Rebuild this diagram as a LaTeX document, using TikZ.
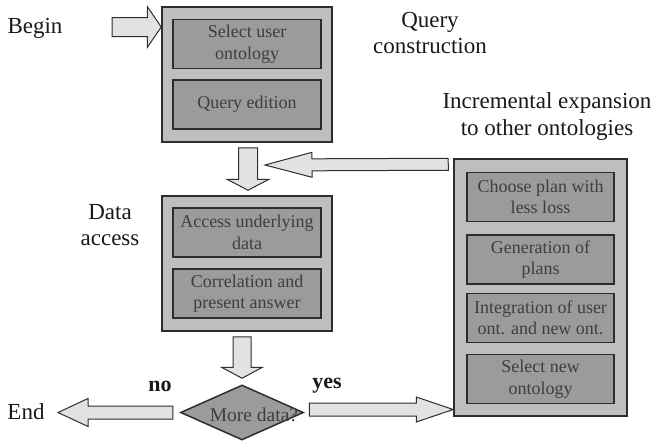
\documentclass[tikz,border=0pt]{standalone}
\usepackage{fontspec}
\setmainfont{Liberation Serif}
\usetikzlibrary{calc,shapes.geometric}

\definecolor{panelgray}{RGB}{190,190,190}
\definecolor{stepgray}{RGB}{155,155,155}
\definecolor{arrowgray}{RGB}{226,226,226}
\definecolor{edgegray}{RGB}{45,45,45}
\definecolor{textgray}{RGB}{62,62,62}

\tikzset{
  panel/.style={draw=edgegray, line width=1.5pt, fill=panelgray,
    minimum width=170pt, minimum height=135pt, inner sep=0pt},
  stepbox/.style={draw=edgegray, line width=1.5pt, fill=stepgray,
    minimum width=148pt, minimum height=49pt, inner sep=0pt, align=center,
    text=textgray, font=\fontsize{18}{21.5}\selectfont},
  steptext/.style={inner sep=0pt, text=textgray,
    font=\fontsize{19.5}{22}\selectfont},
  caption/.style={align=center, text=black!90,
    font=\fontsize{23}{26.5}\selectfont},
  answer/.style={text=black!90, font=\fontsize{22}{26}\selectfont\bfseries},
  decision/.style={diamond, draw=edgegray, line width=1.5pt, fill=stepgray,
    minimum width=123pt, minimum height=55pt, inner sep=0pt},
  % hollow block arrow: shaft half-width, head half-width, head length (pt)
  blockarrow/.style n args={3}{fill=arrowgray, draw=edgegray, line width=1pt,
    line join=miter,
    to path={let \p1=(\tikztostart), \p2=(\tikztotarget),
      \n1={atan2(\y2-\y1,\x2-\x1)},
      \n2={veclen(\x2-\x1,\y2-\y1)-#3} in
      {[shift={(\p1)}, rotate=\n1]
        (0pt,{-#1*1pt}) -- ({\n2*1pt},{-#1*1pt}) -- ({\n2*1pt},{-#2*1pt})
        -- ({(\n2+#3)*1pt},0pt) -- ({\n2*1pt},{#2*1pt})
        -- ({\n2*1pt},{#1*1pt}) -- (0pt,{#1*1pt}) -- cycle}}}
}

\begin{document}
\begin{tikzpicture}[x=1pt, y=-1pt]
  \useasboundingbox (0,0) rectangle (654,442);

  % query construction
  \node[panel] (qc) at (247,74.5) {};
  \node[stepbox] (sel) at (247,44) {Select user\\ontology};
  \node[stepbox] (edit) at (247,104.5) {Query edition};

  % data access
  \node[panel] (da) at (247,263.5) {};
  \node[stepbox] (acc) at (247,232.5) {Access underlying\\data};
  \node[stepbox] (corr) at (247,293.5) {Correlation and\\present answer};

  % incremental expansion
  \node[panel, minimum width=173pt, minimum height=257pt] (ie) at (540.5,287.5) {};
  \node[stepbox, minimum width=147pt] (choose) at (540.5,197) {Choose plan with\\less loss};
  \node[stepbox, minimum width=147pt] (gen) at (540.5,259.5) {Generation of\\plans};
  \node[stepbox, minimum width=147pt] (integ) at (540.5,318) {Integration of user\\ont. and new ont.};
  \node[stepbox, minimum width=147pt] (selnew) at (540.5,379) {Select new\\ontology};

  % decision
  \node[decision] (more) at (242,412.5) {};
  \node[steptext] (moretext) at ($(more.center)+(12,2.5)$) {More data?};

  % captions
  \node[caption] (begin) at (35,28) {Begin};
  \node[caption] (qclabel) at (430,33) {Query\\construction};
  \node[caption] (dalabel) at (110,225) {Data\\access};
  \node[caption] (ielabel) at (547,116.5) {Incremental expansion\\to other ontologies};
  \node[caption] (end) at (26,412) {End};
  \node[answer] (no) at (160,386) {no};
  \node[answer] (yes) at (327,386) {yes};

  % free ends of the block arrows
  \coordinate (beginfrom) at (112,27);
  \coordinate (merge) at (265,165);
  \coordinate (endtip) at (58,412.5);
  \coordinate (yesfrom) at ($(more.east)+(5,-3)$);

  % block arrows
  \draw[blockarrow={9.5}{20.5}{14}] (beginfrom) to (qc.west |- beginfrom);
  \draw[blockarrow={9.5}{21}{11}] ($(qc.south)+(1,5)$) to ($(da.north)+(1,-5)$);
  \draw[blockarrow={6}{12.5}{47}] ($(ie.north west)+(-5,6)$) to (merge);
  \draw[blockarrow={9}{20.5}{11}] ($(da.south -| more.north)+(0,5)$) to ($(more.north)+(0,-6)$);
  \draw[blockarrow={6.5}{14}{30}] ($(more.west)+(-7,0)$) to (endtip);
  \draw[blockarrow={6.5}{12.5}{37}] (yesfrom) to (ie.west |- yesfrom);
\end{tikzpicture}
\end{document}
